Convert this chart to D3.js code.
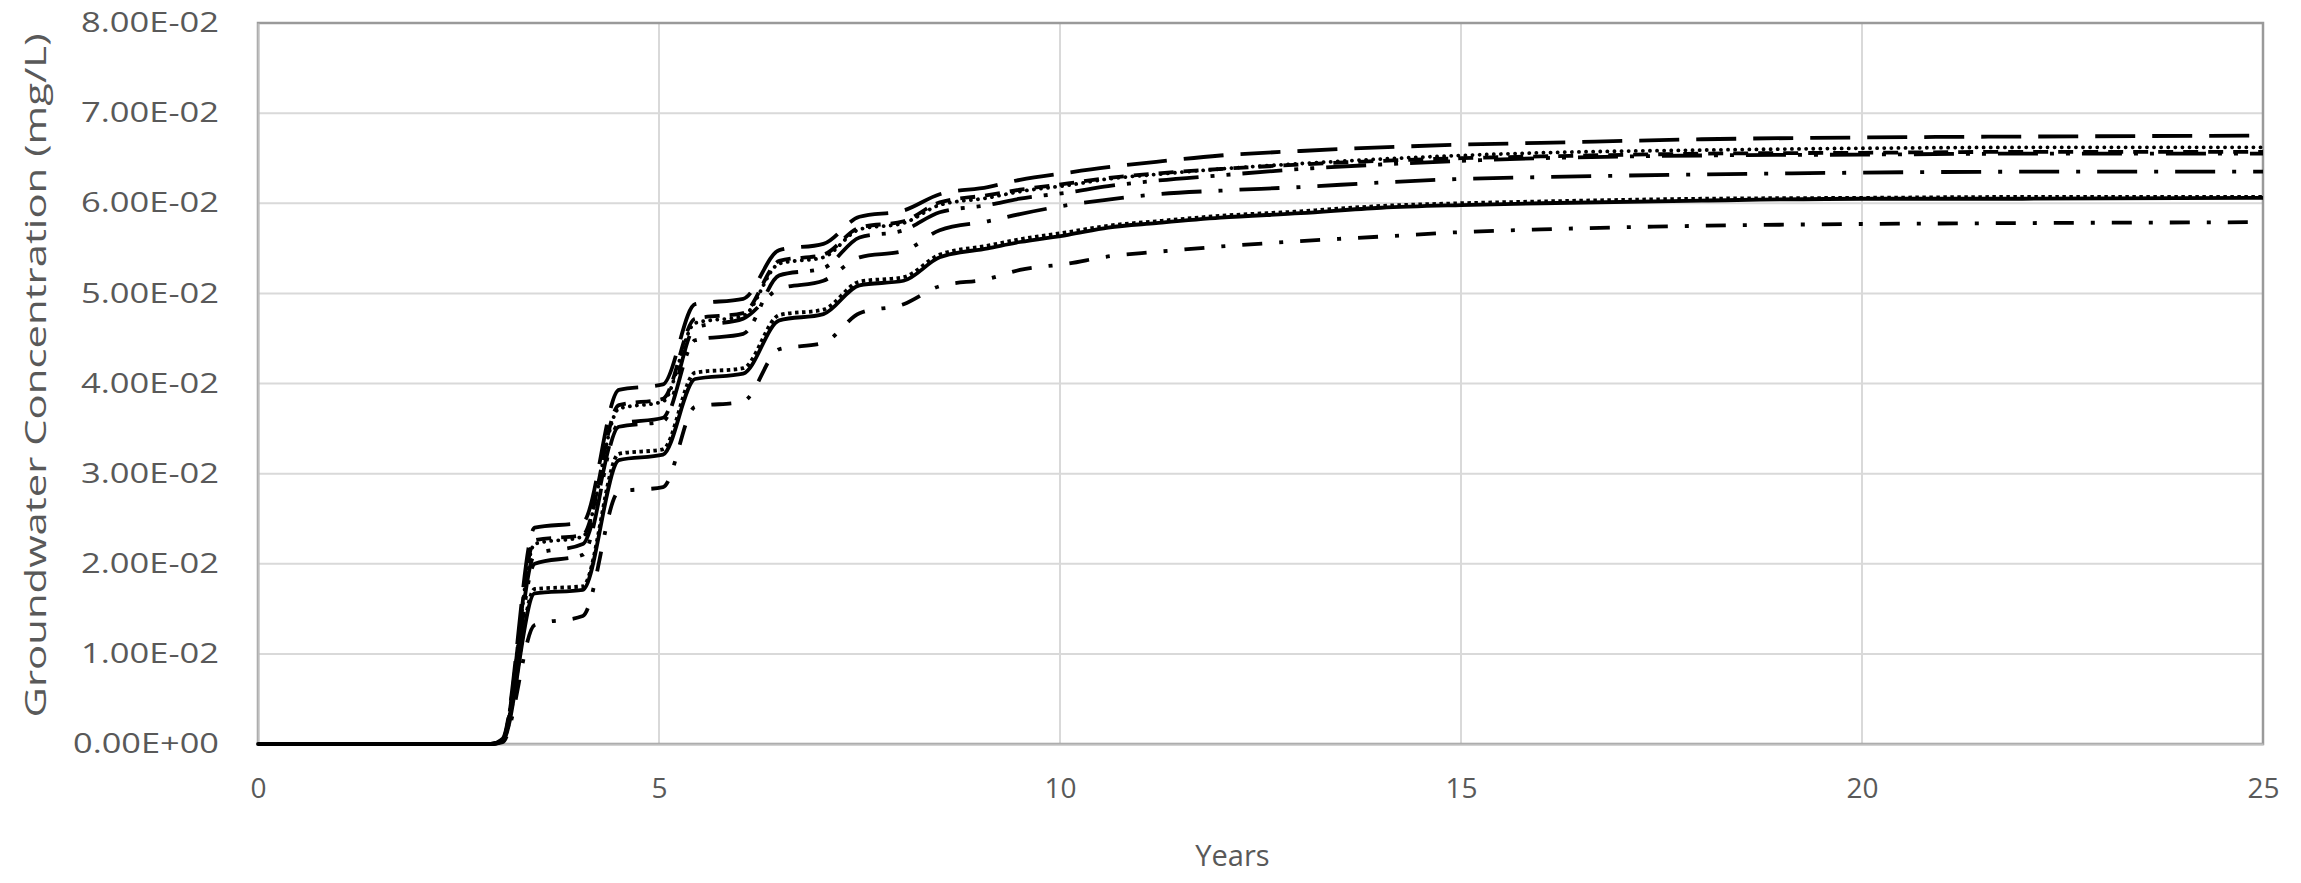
<!DOCTYPE html>
<html>
<head>
<meta charset="utf-8">
<script src="https://cdn.jsdelivr.net/npm/d3@7"></script>
<style>
  body { margin: 0; background: #fff; }
  text { font-family: "Open Sans", "Liberation Sans", sans-serif; fill: #595959; }
</style>
</head>
<body>
<div id="chart"></div>
<script>
// time axis shared by all series (years)
var years = [0, 2.9, 3.05, 3.45, 4.05, 4.5, 5.05, 5.45, 6.05, 6.5, 7.05, 7.5, 8.05, 8.5, 9.1, 9.5, 10.1, 10.6, 11.2, 12, 13, 14, 15, 16, 18, 20, 22, 25];

// concentrations (mg/L), one list per run
var longDash    = [0, 0, 0.0006, 0.0240, 0.0246, 0.0393, 0.0399, 0.0488, 0.0494, 0.0548, 0.0555, 0.0585, 0.0592, 0.0610, 0.0618, 0.0626, 0.0634, 0.0640, 0.0646, 0.0653, 0.0658, 0.0662, 0.0665, 0.0667, 0.0671, 0.0673, 0.0674, 0.0675];
var roundDot    = [0, 0, 0.0005, 0.0222, 0.0230, 0.0372, 0.0380, 0.0467, 0.0475, 0.0533, 0.0540, 0.0571, 0.0578, 0.0598, 0.0606, 0.0613, 0.0620, 0.0627, 0.0632, 0.0638, 0.0644, 0.0649, 0.0653, 0.0656, 0.0659, 0.0661, 0.0662, 0.0662];
var dash        = [0, 0, 0.0005, 0.0226, 0.0232, 0.0376, 0.0383, 0.0472, 0.0478, 0.0536, 0.0543, 0.0573, 0.0580, 0.0601, 0.0609, 0.0615, 0.0622, 0.0628, 0.0633, 0.0638, 0.0643, 0.0647, 0.0650, 0.0652, 0.0655, 0.0656, 0.0657, 0.0657];
var longDashDotDot = [0, 0, 0.0004, 0.0200, 0.0210, 0.0352, 0.0358, 0.0448, 0.0455, 0.0520, 0.0528, 0.0562, 0.0570, 0.0590, 0.0598, 0.0605, 0.0612, 0.0619, 0.0625, 0.0631, 0.0638, 0.0643, 0.0647, 0.0650, 0.0653, 0.0654, 0.0655, 0.0655];
var longDashDot = [0, 0, 0.0004, 0.0210, 0.0222, 0.0355, 0.0362, 0.0462, 0.0472, 0.0505, 0.0514, 0.0540, 0.0547, 0.0570, 0.0580, 0.0588, 0.0598, 0.0604, 0.0610, 0.0614, 0.0618, 0.0623, 0.0627, 0.0629, 0.0632, 0.0634, 0.0635, 0.0635];
var squareDot   = [0, 0, 0.0004, 0.0172, 0.0175, 0.0322, 0.0327, 0.0412, 0.0417, 0.0476, 0.0482, 0.0513, 0.0518, 0.0543, 0.0553, 0.0560, 0.0568, 0.0575, 0.0580, 0.0586, 0.0591, 0.0597, 0.0600, 0.0602, 0.0605, 0.0606, 0.0607, 0.0607];
var solid       = [0, 0, 0.0003, 0.0167, 0.0171, 0.0315, 0.0321, 0.0405, 0.0411, 0.0470, 0.0477, 0.0509, 0.0514, 0.0540, 0.0550, 0.0557, 0.0565, 0.0573, 0.0578, 0.0584, 0.0589, 0.0595, 0.0598, 0.0600, 0.0603, 0.0605, 0.0605, 0.0606];
var dashDot     = [0, 0, 0.0002, 0.0132, 0.0142, 0.0280, 0.0285, 0.0374, 0.0380, 0.0438, 0.0445, 0.0478, 0.0488, 0.0508, 0.0516, 0.0526, 0.0533, 0.0541, 0.0546, 0.0552, 0.0558, 0.0563, 0.0568, 0.0571, 0.0575, 0.0577, 0.0578, 0.0579];

var xTicks = [0, 5, 10, 15, 20, 25];
var yTicks = [0, 0.01, 0.02, 0.03, 0.04, 0.05, 0.06, 0.07, 0.08];

var series = [
  {values: longDash, dash: "40,17"},
  {values: roundDot, dash: "0.1,7", cap: "round"},
  {values: dash, dash: "15,10"},
  {values: longDashDotDot, dash: "40,12,4,12,4,12"},
  {values: longDashDot, dash: "40,17,4,17"},
  {values: squareDot, dash: "3.5,3.5"},
  {values: solid, dash: null},
  {values: dashDot, dash: "20,17,4,17"}
];

var margin = {top: 23, right: 38, bottom: 139, left: 258};
var width = 2301, height = 883;
var w = width - margin.left - margin.right;
var h = height - margin.top - margin.bottom;

var svg = d3.select("#chart")
  .append("svg")
  .attr("width", width)
  .attr("height", height);

var g = svg.append("g")
  .attr("transform", "translate(" + margin.left + "," + margin.top + ")");

//SCALES
var x = d3.scaleLinear().domain([0, 25]).range([0, w]);
var y = d3.scaleLinear().domain([0, 0.08]).range([h, 0]);

//GRID
g.selectAll(".hgrid")
  .data(yTicks)
  .enter().append("line")
  .attr("x1", 0).attr("x2", w)
  .attr("y1", function(d) { return y(d); })
  .attr("y2", function(d) { return y(d); })
  .attr("stroke", "#d9d9d9")
  .attr("stroke-width", 2);

g.selectAll(".vgrid")
  .data(xTicks)
  .enter().append("line")
  .attr("y1", 0).attr("y2", h)
  .attr("x1", function(d) { return x(d); })
  .attr("x2", function(d) { return x(d); })
  .attr("stroke", "#d9d9d9")
  .attr("stroke-width", 2);

// plot border
g.append("rect")
  .attr("width", w).attr("height", h)
  .attr("fill", "none")
  .attr("stroke", "#9a9a9a")
  .attr("stroke-width", 2.5);

//AXES
var yAxis = d3.axisLeft(y).tickValues(yTicks).tickSize(0).tickPadding(39)
  .tickFormat(function(d) { return d === 0 ? "0.00E+00" : (d * 100).toFixed(2) + "E-02"; });
var yg = g.append("g").call(yAxis);
yg.select(".domain").attr("stroke", "#bfbfbf").attr("stroke-width", 2);
yg.selectAll("text")
  .style("font-size", "27px")
  .attr("fill", "#595959")
  .attr("textLength", function(d) { return d === 0 ? 146 : 138; })
  .attr("lengthAdjust", "spacingAndGlyphs");

var xAxis = d3.axisBottom(x).tickValues(xTicks).tickSize(0).tickPadding(34);
var xg = g.append("g").attr("transform", "translate(0," + h + ")").call(xAxis);
xg.select(".domain").attr("stroke", "#bfbfbf").attr("stroke-width", 2);
xg.selectAll("text").style("font-size", "28px").attr("fill", "#595959");

// axis titles
svg.append("text")
  .attr("transform", "translate(36," + (margin.top + h / 2 - 8) + ") rotate(-90)")
  .attr("text-anchor", "middle")
  .attr("dy", "0.35em")
  .style("font-size", "29px")
  .attr("textLength", 684)
  .attr("lengthAdjust", "spacingAndGlyphs")
  .text("Groundwater Concentration (mg/L)");

svg.append("text")
  .attr("x", margin.left + w / 2 - 28)
  .attr("y", 866)
  .attr("text-anchor", "middle")
  .style("font-size", "29px")
  .text("Years");

//LINES
var line = d3.line()
  .x(function(d, i) { return x(years[i]); })
  .y(function(d) { return y(d); })
  .curve(d3.curveMonotoneX);

g.selectAll(".series")
  .data(series)
  .enter().append("path")
  .attr("class", "series")
  .attr("d", function(d) { return line(d.values); })
  .attr("fill", "none")
  .attr("stroke", "#000")
  .attr("stroke-width", 3.8)
  .attr("stroke-linecap", function(d) { return d.cap || "butt"; })
  .attr("stroke-dasharray", function(d) { return d.dash; });
</script>
</body>
</html>
